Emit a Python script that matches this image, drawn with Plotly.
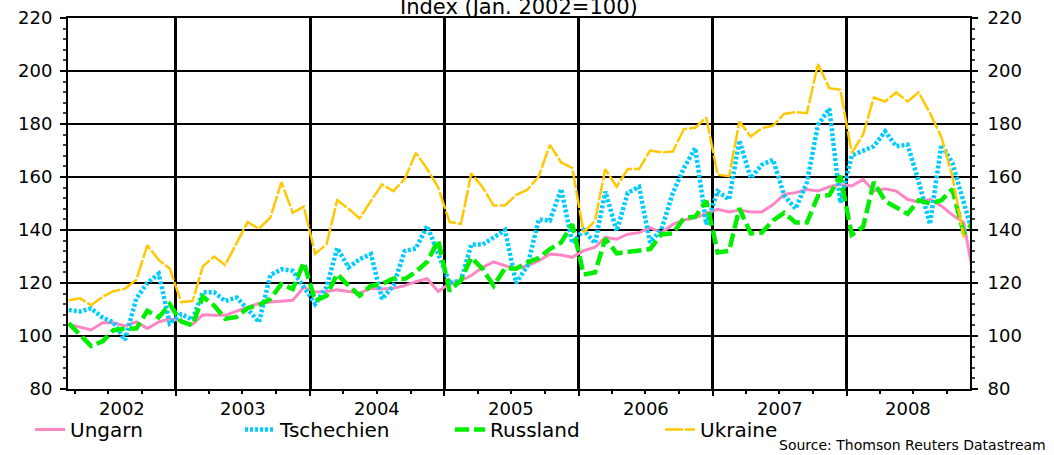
import pandas as pd
import plotly.graph_objects as go

# Monthly observations, Mar 2002 .. Dec 2008 (index Jan 2002 = 100)
start_month = "2002-03-01"

ungarn = [
    104.4, 103.4, 102.3, 105.0, 105.0, 103.8, 105.3, 102.8, 105.3, 106.5,
    105.7, 104.4, 108.0, 107.8, 107.8, 109.4, 110.7, 112.3, 112.8, 113.2, 113.5, 118.4,
    116.6, 116.8, 117.4, 116.8, 116.2, 118.0, 117.7, 118.0, 119.0, 120.5, 121.6, 116.8,
    119.9, 120.9, 122.8, 125.9, 128.0, 126.5, 125.5, 126.5, 128.4, 130.9, 130.6, 129.7,
    132.2, 133.5, 137.2, 136.5, 138.4, 139.0, 140.9, 139.0, 142.1, 143.8, 144.6, 146.3,
    147.8, 146.8, 147.5, 146.8, 146.8, 149.6, 153.4, 154.1, 155.3, 154.7, 156.3, 157.2,
    156.6, 159.1, 154.7, 155.6, 154.7, 151.6, 150.6, 151.6, 149.1, 145.7, 142.8, 120.0,
]

tschechien = [
    109.8, 109.3, 110.4, 107.0, 105.1, 98.5, 114.2, 120.0, 123.5, 104.8,
    108.2, 106.2, 116.5, 116.5, 113.2, 114.5, 110.2, 105.2, 123.0, 125.2, 124.6, 118.6,
    112.1, 118.5, 133.2, 125.9, 129.0, 130.9, 114.0, 119.0, 132.1, 133.0, 141.5, 131.0,
    120.0, 121.0, 134.5, 134.5, 137.0, 140.0, 120.0, 126.5, 144.0, 143.5, 155.5, 135.0,
    140.0, 135.0, 154.5, 139.6, 154.0, 156.3, 135.3, 140.3, 154.0, 163.4, 170.9, 142.1,
    154.6, 151.5, 173.8, 159.6, 164.6, 166.5, 153.0, 148.0, 158.0, 179.6, 185.8, 150.3,
    168.1, 169.7, 171.6, 177.2, 171.6, 172.2, 158.4, 142.2, 172.2, 165.3, 151.0, 136.0,
]

russland = [
    104.8, 100.5, 96.2, 98.0, 102.2, 102.8, 102.8, 109.5, 107.0, 112.0,
    105.5, 104.0, 114.8, 111.5, 106.5, 107.2, 110.5, 111.7, 114.0, 119.6, 117.7, 127.8,
    113.3, 115.2, 123.4, 119.0, 115.2, 119.0, 119.6, 121.7, 121.5, 124.2, 128.0, 136.1,
    117.0, 121.0, 129.6, 125.3, 119.0, 125.6, 125.4, 127.7, 129.5, 132.8, 135.3, 142.2,
    123.2, 124.0, 136.7, 131.2, 131.8, 132.2, 132.8, 138.4, 138.7, 144.5, 145.0, 151.0,
    131.5, 132.1, 148.2, 138.7, 139.0, 143.6, 146.5, 142.8, 142.8, 152.8, 153.2, 160.4,
    138.2, 141.2, 158.1, 150.9, 148.4, 146.1, 151.2, 150.0, 151.2, 155.4, 138.7, 143.5,
]

ukraine = [
    113.5, 114.2, 111.6, 114.8, 116.9, 117.8, 121.2, 134.2, 128.7, 125.5,
    112.8, 113.2, 126.2, 130.0, 126.8, 135.0, 143.0, 140.5, 144.7, 158.0, 146.5, 148.8,
    131.0, 134.6, 151.3, 148.0, 144.4, 151.0, 157.2, 154.7, 159.3, 169.1, 163.0, 156.0,
    143.0, 142.3, 161.4, 156.1, 149.2, 149.2, 153.2, 155.2, 160.3, 172.1, 165.5, 163.4,
    139.1, 143.5, 163.0, 156.3, 163.0, 163.0, 170.0, 169.3, 169.6, 178.1, 178.6, 182.5,
    160.9, 160.3, 180.9, 175.3, 178.4, 179.4, 183.8, 184.5, 184.1, 202.6, 193.5, 192.9,
    169.1, 176.0, 190.0, 188.5, 191.9, 188.5, 191.9, 184.1, 175.1, 160.3, 137.2, None,
]

series_names = ["Ungarn", "Tschechien", "Russland", "Ukraine"]
years = [2002, 2003, 2004, 2005, 2006, 2007, 2008]
y_ticks = [80, 100, 120, 140, 160, 180, 200, 220]
title_text = "Index (Jan. 2002=100)"
source_text = "Source: Thomson Reuters Datastream"

months = pd.date_range(start_month, periods=len(ungarn), freq="MS") + pd.Timedelta(days=14)

x_start = pd.Timestamp("2002-03-13")
x_end = pd.Timestamp("2008-12-02")

styles = {
    "Ungarn": dict(color="#FF86C4", dash="solid", width=3),
    "Tschechien": dict(color="#00CCFF", dash="3px,2px", width=4.5),
    "Russland": dict(color="#00EE00", dash="14px,5px", width=4.5),
    "Ukraine": dict(color="#FFC800", dash="18px,2px", width=2.5),
}
data = {"Ungarn": ungarn, "Tschechien": tschechien, "Russland": russland, "Ukraine": ukraine}

FONT = "DejaVu Sans"

fig = go.Figure()
for name in series_names:
    fig.add_trace(go.Scatter(x=months, y=data[name], name=name, mode="lines",
                             line=styles[name], connectgaps=False))
# trace to carry the right-hand axis
fig.add_trace(go.Scatter(x=months, y=ungarn, yaxis="y2", showlegend=False,
                         hoverinfo="skip", line=dict(color="rgba(0,0,0,0)")))

year_starts = [pd.Timestamp(f"{y}-01-01") for y in years[1:]]

fig.update_layout(
    width=1054, height=455,
    margin=dict(l=68, r=84, t=18, b=66, autoexpand=False),
    paper_bgcolor="white", plot_bgcolor="white",
    font=dict(family=FONT, color="black", size=17),
    showlegend=True,
    legend=dict(orientation="h", xref="container", yref="container",
                x=0.0285, y=0.056, xanchor="left", yanchor="middle",
                entrywidth=165, font=dict(family=FONT, size=20),
                bgcolor="rgba(0,0,0,0)"),
    xaxis=dict(type="date", range=[x_start, x_end], automargin=False,
               tickmode="array", tickvals=year_starts, showticklabels=False,
               showgrid=True, gridcolor="black", gridwidth=3,
               ticks="outside", ticklen=5, tickwidth=1.5, tickcolor="black",
               showline=True, linecolor="black", linewidth=2, mirror=True,
               zeroline=False,
               minor=dict(tickmode="linear", dtick="M3", tick0="2002-01-01",
                          ticks="outside", ticklen=3, tickcolor="black", showgrid=False)),
    yaxis=dict(range=[80, 220], tickmode="array", tickvals=y_ticks, automargin=False,
               showgrid=True, gridcolor="black", gridwidth=2,
               ticks="outside", ticklen=6, tickwidth=1.5, tickcolor="black",
               showline=True, linecolor="black", linewidth=2,
               zeroline=False, ticklabelstandoff=4,
               tickfont=dict(family=FONT, size=18),
               minor=dict(tickmode="linear", dtick=4, tick0=80, ticks="outside",
                          ticklen=3, tickcolor="#444", showgrid=False)),
    yaxis2=dict(range=[80, 220], overlaying="y", side="right", automargin=False,
                tickmode="array", tickvals=y_ticks, showgrid=False,
                ticks="outside", ticklen=6, tickwidth=1.5, tickcolor="black",
                showline=True, linecolor="black", linewidth=2,
                zeroline=False, ticklabelstandoff=6,
                tickfont=dict(family=FONT, size=18),
                minor=dict(tickmode="linear", dtick=4, tick0=80, ticks="outside",
                           ticklen=3, tickcolor="#444", showgrid=False)),
)

# year labels centred in the visible part of each year
bounds = [x_start] + year_starts + [x_end]
for i, y in enumerate(years):
    mid = bounds[i] + (bounds[i + 1] - bounds[i]) / 2
    fig.add_annotation(x=mid, xref="x", y=0, yref="paper", yanchor="top",
                       yshift=-7, text=str(y), showarrow=False,
                       font=dict(family=FONT, size=18, color="black"))

fig.add_annotation(x=0.5, xref="paper", y=1, yref="paper", yanchor="bottom",
                   yshift=-3, text=title_text, showarrow=False,
                   font=dict(family=FONT, size=21, color="black"))

fig.add_annotation(x=1.0866, xref="paper", y=-0.151, yref="paper",
                   xanchor="right", yanchor="middle", text=source_text,
                   showarrow=False, font=dict(family=FONT, size=14, color="black"))

fig.write_html("out.html", config={"displayModeBar": False},
               post_script="document.body.style.margin='0px';")
